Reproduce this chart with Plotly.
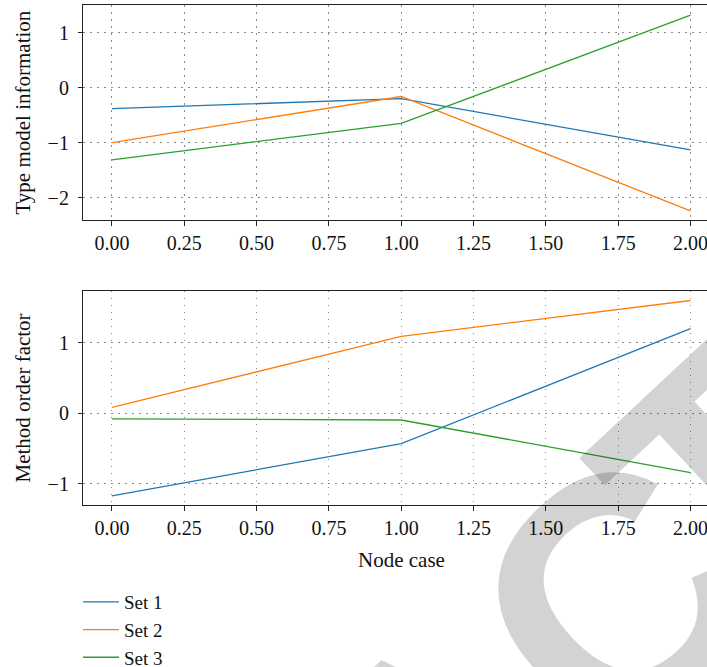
import plotly.graph_objects as go
from plotly.subplots import make_subplots

# ---------------- data ----------------
x_vals = [0, 1, 2]
series_names = ["Set 1", "Set 2", "Set 3"]
type_set1 = [-0.38, -0.20, -1.13]
type_set2 = [-1.00, -0.16, -2.24]
type_set3 = [-1.31, -0.65, 1.32]
method_set1 = [-1.17, -0.43, 1.20]
method_set2 = [0.085, 1.09, 1.60]
method_set3 = [-0.08, -0.095, -0.84]

x_tickvals = [0, 0.25, 0.5, 0.75, 1.0, 1.25, 1.5, 1.75, 2.0]
x_ticktext = ["0.00", "0.25", "0.50", "0.75", "1.00", "1.25", "1.50", "1.75", "2.00"]
top_tickvals = [-2, -1, 0, 1]
top_ticktext = ["\u22122", "\u22121", "0", "1"]
bot_tickvals = [-1, 0, 1]
bot_ticktext = ["\u22121", "0", "1"]

colors = ["#1f77b4", "#ff7f0e", "#2ca02c"]

W, H = 707, 667
FONT = "Liberation Serif"
FS = 20

def px_x(p):
    return p / W

def px_y(p):
    return 1 - p / H

fig = make_subplots(rows=2, cols=1)

top_data = [type_set1, type_set2, type_set3]
bot_data = [method_set1, method_set2, method_set3]
for i, (name, ys) in enumerate(zip(series_names, top_data)):
    fig.add_trace(go.Scatter(x=x_vals, y=ys, mode="lines", name=name,
                             legendgroup=name, showlegend=True,
                             line=dict(color=colors[i], width=1.3)), row=1, col=1)
for i, (name, ys) in enumerate(zip(series_names, bot_data)):
    fig.add_trace(go.Scatter(x=x_vals, y=ys, mode="lines", name=name,
                             legendgroup=name, showlegend=False,
                             line=dict(color=colors[i], width=1.3)), row=2, col=1)

xdom = [px_x(83), 1.0]
common_x = dict(range=[-0.1, 2.057], tickvals=x_tickvals, ticktext=x_ticktext,
                showline=True, linecolor="#222", linewidth=1.2, mirror=True,
                ticks="outside", ticklen=5, tickwidth=1, tickcolor="#222",
                showgrid=True, gridcolor="#8a8a8a", gridwidth=1, griddash="1.5px,5.5px",
                zeroline=False, automargin=False, domain=xdom, ticklabeloverflow="allow",
                tickfont=dict(family=FONT, size=FS, color="#111"))
common_y = dict(showline=True, linecolor="#222", linewidth=1.2, mirror=False,
                ticks="outside", ticklen=4, tickwidth=1, tickcolor="#222",
                ticklabelstandoff=5,
                showgrid=True, gridcolor="#8a8a8a", gridwidth=1, griddash="1.5px,5.5px",
                zeroline=False, automargin=False, ticklabeloverflow="allow",
                tickfont=dict(family=FONT, size=FS, color="#111"))

fig.update_layout(
    xaxis=dict(**common_x),
    xaxis2=dict(**common_x),
    yaxis=dict(**common_y, range=[-2.405, 1.504], tickvals=top_tickvals, ticktext=top_ticktext,
               domain=[px_y(220), px_y(5)]),
    yaxis2=dict(**common_y, range=[-1.305, 1.739], tickvals=bot_tickvals, ticktext=bot_ticktext,
                domain=[px_y(505.3), px_y(290.7)]),
)

annotations = [
    dict(text="Type model information", x=px_x(22.5), y=px_y(113), xref="paper", yref="paper",
         showarrow=False, textangle=-90, xanchor="center", yanchor="middle",
         font=dict(family=FONT, size=21, color="#111")),
    dict(text="Method order factor", x=px_x(22.5), y=px_y(398), xref="paper", yref="paper",
         showarrow=False, textangle=-90, xanchor="center", yanchor="middle",
         font=dict(family=FONT, size=21, color="#111")),
    dict(text="Node case", x=px_x(401), y=px_y(560), xref="paper", yref="paper",
         showarrow=False, xanchor="center", yanchor="middle",
         font=dict(family=FONT, size=21, color="#111")),
]

# retraction watermark ("RETRACTED", only letters A, C, T fall inside the picture)
wm_letters = ["A", "C", "T"]
wm_centers = [(439, 763), (614.7, 597.9), (730, 474)]
for letter, (cx, cy) in zip(wm_letters, wm_centers):
    annotations.append(dict(
        text=letter, x=px_x(cx), y=px_y(cy), xref="paper", yref="paper",
        showarrow=False, textangle=-43, xanchor="center", yanchor="middle",
        font=dict(family="Liberation Sans", size=335, weight="bold",
                  color="rgba(0,0,0,0.172)")))

fig.update_layout(
    width=W, height=H, autosize=False,
    margin=dict(l=0, r=0, t=0, b=0, autoexpand=False),
    paper_bgcolor="white", plot_bgcolor="white",
    annotations=annotations,
    showlegend=True,
    legend=dict(x=px_x(78), y=px_y(583), xanchor="left", yanchor="top",
                font=dict(family=FONT, size=19, color="#111"),
                bgcolor="rgba(0,0,0,0)", borderwidth=0, itemwidth=36,
                traceorder="grouped", tracegroupgap=0),
)

fig.write_html(
    "out.html",
    config={"responsive": False, "displayModeBar": False},
    post_script="document.body.style.margin='0';document.body.style.overflow='hidden';",
)
